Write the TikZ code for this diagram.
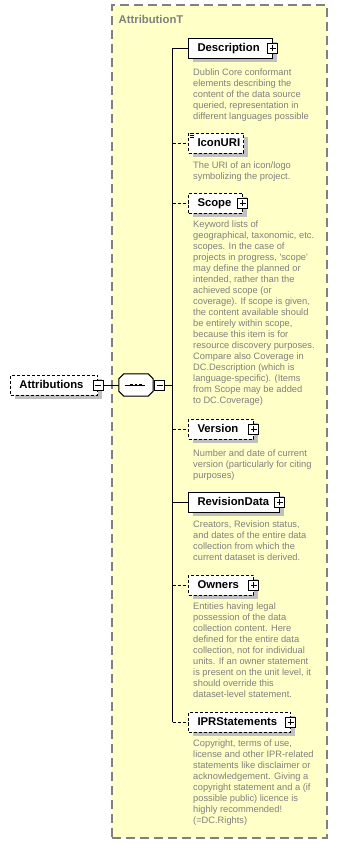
\documentclass[tikz,border=0pt]{standalone}
\usepackage{fontspec}
\setmainfont{Liberation Sans}[Ligatures=TeXOff]
\usetikzlibrary{shadows}

\definecolor{paneyellow}{HTML}{FFFFC8}
\definecolor{paneframe}{HTML}{808080}
\definecolor{shade}{HTML}{C0C0C0}
\definecolor{notegray}{HTML}{808080}

\tikzset{
  boxshadow/.style={drop shadow={shadow xshift=4pt,shadow yshift=-4pt,fill=shade,opacity=1}},
  elem/.style={rectangle,draw=black,line width=1pt,fill=white,anchor=west,
    minimum height=20pt,inner xsep=9pt,inner ysep=0pt,align=left,
    text height=8.5pt,text depth=1.5pt,
    font=\fontsize{11.3}{12}\selectfont\bfseries,boxshadow},
  optional/.style={dash pattern=on 3pt off 2pt},
  pane/.style={rectangle,draw=paneframe,fill=paneyellow,line width=1.6pt,
    dash pattern=on 9pt off 5pt,minimum width=215pt,minimum height=833pt,inner sep=0pt},
  panetitle/.style={inner sep=0pt,text=notegray,font=\fontsize{11.3}{12}\selectfont\bfseries},
  note/.style={anchor=north west,inner sep=0pt,align=left,text=notegray,
    font=\fontsize{9.3}{11}\selectfont},
  toggle/.style={rectangle,draw=black,line width=0.9pt,fill=white,minimum size=10pt,inner sep=0pt},
  plusbox/.style={toggle,path picture={
    \draw[line width=0.9pt] ([yshift=-2pt]path picture bounding box.north) -- ([yshift=2pt]path picture bounding box.south);
    \draw[line width=0.9pt] ([xshift=2pt]path picture bounding box.west) -- ([xshift=-2pt]path picture bounding box.east);}},
  minusbox/.style={toggle,path picture={
    \draw[line width=0.9pt] ([xshift=2pt]path picture bounding box.west) -- ([xshift=-2pt]path picture bounding box.east);}},
  seqframe/.style={rectangle,minimum width=34pt,minimum height=22pt,inner sep=0pt},
  link/.style={draw=black,line width=1pt},
}

\newcommand{\firstline}{\rule{0pt}{8pt}}
% octagonal outline of a compositor node, chamfer 5pt
\newcommand{\octpath}[1]{([xshift=5pt]#1.north west) -- ([xshift=-5pt]#1.north east)
  -- ([yshift=-5pt]#1.north east) -- ([yshift=5pt]#1.south east)
  -- ([xshift=-5pt]#1.south east) -- ([xshift=5pt]#1.south west)
  -- ([yshift=5pt]#1.south west) -- ([yshift=-5pt]#1.north west) -- cycle}

\begin{document}
\begin{tikzpicture}[x=1pt,y=-1pt]
\useasboundingbox (0,0) rectangle (337,844);

% complex type pane
\node[pane] (pane) at (219.5,421.5) {};
\node[panetitle,anchor=base west] (ptitle) at (118.5,23) {AttributionT};

% root element and its sequence compositor
\node[elem,optional,text width=69pt] (attr) at (10,385) {Attributions};
\node[minusbox] (attrx) at (attr.east) {};
\node[seqframe] (seq) at (136,385) {};
\begin{scope}[shift={(4,4)}]
  \fill[shade] \octpath{seq};
\end{scope}
\filldraw[fill=white,draw=black,line width=1pt] \octpath{seq};
\draw[line width=1pt] ([xshift=-11.5pt]seq.center) -- ([xshift=8.5pt]seq.center);
\foreach \dx in {-4.5,0,4.5}
  \fill ([xshift=\dx pt-1.3pt,yshift=1.3pt]seq.center) rectangle ++(2.6,2.6);
\node[minusbox,anchor=west] (seqx) at ([xshift=1pt]seq.east) {};

% child elements
\node[elem,text width=66pt] (desc) at (188,48) {Description};
\node[plusbox] (descx) at ([xshift=-0.5pt]desc.east) {};

\node[elem,optional,text width=37pt] (icon) at (188,143) {IconURI};
\foreach \dy in {1,2.7,4.4}
  \draw[line width=0.7pt] ([xshift=1.5pt,yshift=-\dy pt]icon.north west) -- ++(4,0);

\node[elem,optional,text width=36pt] (scope) at (188,203) {Scope};
\node[plusbox] (scopex) at ([xshift=-0.5pt]scope.east) {};

\node[elem,optional,text width=47pt] (version) at (188,429) {Version};
\node[plusbox] (versionx) at ([xshift=-0.5pt]version.east) {};

\node[elem,text width=73pt] (revision) at (188,502) {RevisionData};
\node[plusbox] (revisionx) at ([xshift=-0.5pt]revision.east) {};

\node[elem,optional,text width=47pt] (owners) at (188,585) {Owners};
\node[plusbox] (ownersx) at ([xshift=-0.5pt]owners.east) {};

\node[elem,optional,text width=84pt] (ipr) at (188,722) {IPRStatements};
\node[plusbox] (iprx) at ([xshift=-0.5pt]ipr.east) {};

% connectors
\coordinate (spine) at (172.5,0);
\draw[link] (attrx.east) -- (seq.west);
\draw[link] (seqx.east) -- (seqx.east -| spine);
\draw[link] (desc.west -| spine) -- (ipr.west -| spine);
\draw[link] (desc.west -| spine) -- (desc.west);
\draw[link,optional] (icon.west -| spine) -- (icon.west);
\draw[link,optional] (scope.west -| spine) -- (scope.west);
\draw[link,optional] (version.west -| spine) -- (version.west);
\draw[link] (revision.west -| spine) -- (revision.west);
\draw[link,optional] (owners.west -| spine) -- (owners.west);
\draw[link,optional] (ipr.west -| spine) -- (ipr.west);

% annotations
\node[note] (descnote) at (193,67) {\firstline Dublin Core conformant\\elements describing the\\content of the data source\\queried, representation in\\different languages possible};
\node[note] (iconnote) at (193,160) {\firstline The URI of an icon/logo\\symbolizing the project.};
\node[note] (scopenote) at (193,219) {\firstline Keyword lists of\\geographical, taxonomic, etc.\\scopes. In the case of\\projects in progress, 'scope'\\may define the planned or\\intended, rather than the\\achieved scope (or\\coverage). If scope is given,\\the content available should\\be entirely within scope,\\because this item is for\\resource discovery purposes.\\Compare also Coverage in\\DC.Description (which is\\language-specific). (Items\\from Scope may be added\\to DC.Coverage)};
\node[note] (versionnote) at (193,448) {\firstline Number and date of current\\version (particularly for citing\\purposes)};
\node[note] (revisionnote) at (193,519) {\firstline Creators, Revision status,\\and dates of the entire data\\collection from which the\\current dataset is derived.};
\node[note] (ownersnote) at (193,601) {\firstline Entities having legal\\possession of the data\\collection content. Here\\defined for the entire data\\collection, not for individual\\units. If an owner statement\\is present on the unit level, it\\should override this\\dataset-level statement.};
\node[note] (iprnote) at (193,738.5) {\firstline Copyright, terms of use,\\license and other IPR-related\\statements like disclaimer or\\acknowledgement. Giving a\\copyright statement and a (if\\possible public) licence is\\highly recommended!\\(=DC.Rights)};
\end{tikzpicture}
\end{document}
